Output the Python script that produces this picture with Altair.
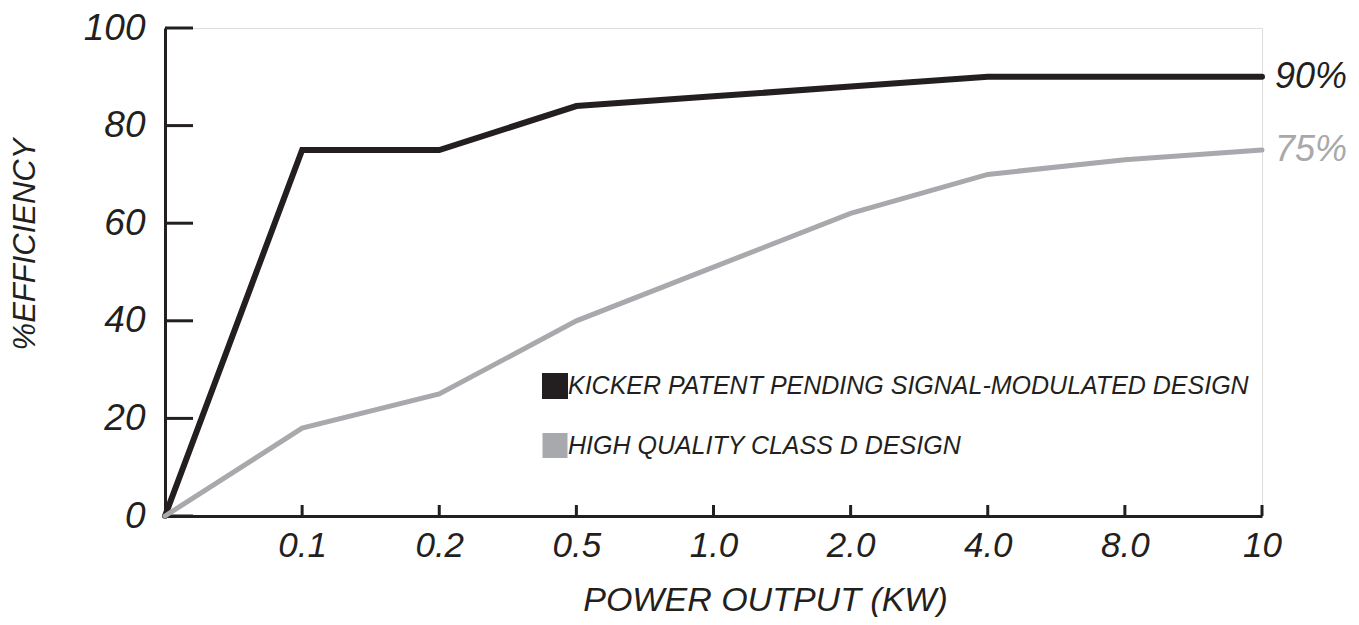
import altair as alt
import pandas as pd

power = ["0", "0.1", "0.2", "0.5", "1.0", "2.0", "4.0", "8.0", "10"]
kicker = [0, 75, 75, 84, 86, 88, 90, 90, 90]
classd = [0, 18, 25, 40, 51, 62, 70, 73, 75]
series = ["KICKER PATENT PENDING SIGNAL-MODULATED DESIGN", "HIGH QUALITY CLASS D DESIGN"]
colors = ["#231f20", "#a7a9ac"]
y_ticks = [0, 20, 40, 60, 80, 100]

FONT = "Liberation Sans"
W, H = 1097, 488

rows = []
for s, vals in zip(series, [kicker, classd]):
    for p, v in zip(power, vals):
        rows.append({"power": p, "eff": v, "series": s})
df = pd.DataFrame(rows)

end_df = pd.DataFrame({
    "power": [power[-1], power[-1]],
    "eff": [kicker[-1], classd[-1]],
    "series": series,
    "label": [f"{kicker[-1]}%", f"{classd[-1]}%"],
})
ytick_df = pd.DataFrame({"eff": y_ticks})
xtick_df = pd.DataFrame({"power": power[1:]})

xscale = alt.Scale(type="point", domain=power, padding=0)
yscale = alt.Scale(domain=[0, 100], nice=False)
cscale = alt.Scale(domain=series, range=colors)

x_enc = alt.X(
    "power:O", scale=xscale, sort=power,
    axis=alt.Axis(
        title="POWER OUTPUT (KW)", ticks=False, labelAngle=0, labelAlign="center",
        labelBaseline="top", labelFlush=False,
        labelExpr="datum.label == '0' ? '' : datum.label",
        labelFont=FONT, labelFontSize=35, labelFontStyle="italic", labelColor="#231f20",
        labelPadding=12, domainColor="#231f20", domainWidth=3,
        titleFont=FONT, titleFontSize=34, titleFontStyle="italic", titleFontWeight="normal",
        titleColor="#231f20", titleX=600, titleY=84, titleBaseline="middle", titleAlign="center",
        grid=False,
    ),
)
y_enc = alt.Y(
    "eff:Q", scale=yscale,
    axis=alt.Axis(
        title="%EFFICIENCY", values=y_ticks, ticks=False,
        labelFont=FONT, labelFontSize=37, labelFontStyle="italic", labelColor="#231f20",
        labelPadding=20, domainColor="#231f20", domainWidth=3,
        titleFont=FONT, titleFontSize=31, titleFontStyle="italic", titleFontWeight="normal",
        titleColor="#231f20", titleX=-140, titleY=216, titleAngle=-90,
        titleBaseline="middle", titleAlign="center", grid=False,
    ),
)

lines = alt.Chart(df).mark_line(strokeCap="round").encode(
    x=x_enc,
    y=y_enc,
    color=alt.Color(
        "series:N", scale=cscale, sort=series,
        legend=alt.Legend(
            title=None, orient="none", legendX=377, legendY=345,
            symbolType="square", symbolSize=400, symbolStrokeWidth=0,
            symbolOpacity=1,
            labelFont=FONT, labelFontSize=25, labelFontStyle="italic", labelColor="#231f20",
            labelOffset=0, rowPadding=17, padding=0, labelLimit=900,
        ),
    ),
    strokeWidth=alt.StrokeWidth("series:N", scale=alt.Scale(domain=series, range=[6, 5]), legend=None),
    order=alt.Order("series:N", sort="ascending"),
)

yticks = alt.Chart(ytick_df).mark_rule(color="#231f20", strokeWidth=3).encode(
    y=alt.Y("eff:Q", scale=yscale),
    x=alt.value(0), x2=alt.value(28),
)
xticks = alt.Chart(xtick_df).mark_rule(color="#231f20", strokeWidth=3).encode(
    x=alt.X("power:O", scale=xscale, sort=power),
    y=alt.value(H), y2=alt.value(H - 11),
)

ends = alt.Chart(end_df).mark_text(
    align="left", baseline="middle", dx=13, font=FONT, fontSize=36, fontStyle="italic"
).encode(
    x=alt.X("power:O", scale=xscale, sort=power),
    y=alt.Y("eff:Q", scale=yscale),
    text="label:N",
    color=alt.Color("series:N", scale=cscale, legend=None),
)

chart = alt.layer(yticks, xticks, lines, ends).properties(
    width=W, height=H,
    padding={"left": 157, "top": 20, "right": 89, "bottom": 101},
    autosize=alt.AutoSizeParams(type="none"),
).configure_view(stroke=None).configure(background="white")

chart.save("out.html", embed_options={"renderer": "svg", "actions": False})
